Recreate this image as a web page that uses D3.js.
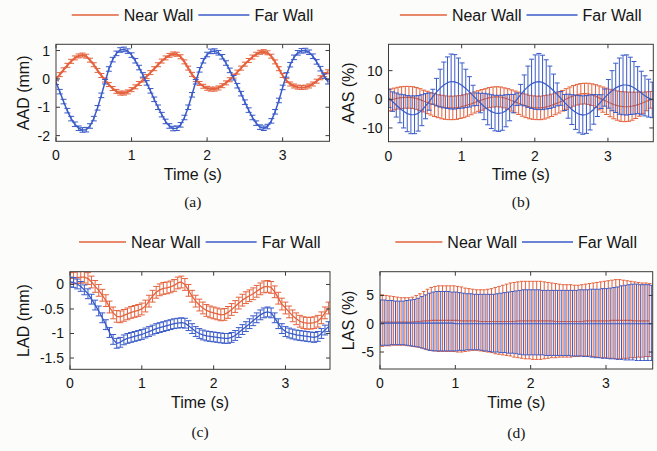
<!DOCTYPE html>
<html>
<head>
<meta charset="utf-8">
<script src="https://cdn.jsdelivr.net/npm/d3@7"></script>
<style>
  body { margin: 0; background: #fcfcfa; }
  svg { display: block; }
  text { font-family: Arial, "Liberation Sans", sans-serif; fill: #151515; }
  .caption { font-family: "Times New Roman", "Liberation Serif", serif; }
</style>
</head>
<body>
<div id="fig"></div>
<script>
// ---- data, one sample every 0.05 s ----
var frameStep = 0.05;
var legendNames = ["Near Wall", "Far Wall"];
var timeTicks = [0, 1, 2, 3];
var aadTicks = [-2, -1, 0, 1];
var aasTicks = [-10, 0, 10];
var ladTicks = [-1.5, -1, -0.5, 0];
var lasTicks = [-5, 0, 5];

// (a) AAD (mm)
var aadNear = [0, 0.15, 0.32, 0.48, 0.62, 0.74, 0.81, 0.84, 0.80, 0.66,
  0.50, 0.30, 0.12, -0.04, -0.20, -0.34, -0.44, -0.50, -0.50, -0.46,
  -0.38, -0.28, -0.16, -0.04, 0.08, 0.22, 0.36, 0.50, 0.63, 0.74,
  0.83, 0.88, 0.87, 0.78, 0.60, 0.38, 0.16, -0.02, -0.16, -0.26,
  -0.33, -0.36, -0.36, -0.32, -0.24, -0.14, -0.03, 0.10, 0.24, 0.38,
  0.52, 0.65, 0.77, 0.87, 0.94, 0.96, 0.92, 0.80, 0.60, 0.36,
  0.12, -0.06, -0.18, -0.25, -0.29, -0.30, -0.29, -0.25, -0.18, -0.08,
  0.04, 0.15, 0.25];
var aadFar = [-0.12, -0.45, -0.80, -1.12, -1.40, -1.60, -1.74, -1.80, -1.79, -1.66,
  -1.40, -1.02, -0.58, -0.10, 0.35, 0.68, 0.90, 1.02, 1.04, 0.98,
  0.84, 0.64, 0.40, 0.14, -0.14, -0.42, -0.72, -1.00, -1.26, -1.50,
  -1.66, -1.75, -1.74, -1.62, -1.36, -1.00, -0.56, -0.10, 0.32, 0.64,
  0.86, 0.97, 0.98, 0.92, 0.78, 0.56, 0.30, 0.04, -0.24, -0.52,
  -0.82, -1.10, -1.36, -1.56, -1.70, -1.74, -1.68, -1.48, -1.16, -0.76,
  -0.30, 0.14, 0.50, 0.76, 0.92, 0.99, 1.00, 0.94, 0.80, 0.60,
  0.36, 0.10, -0.10];
var aadNearErr = 0.07, aadFarErr = 0.08;

// (b) AAS (%)
var aasNear = [-0.5, -0.2, 0.1, 0.4, 0.6, 0.7, 0.7, 0.6, 0.3, -0.1,
  -0.6, -1.1, -1.6, -2.0, -2.4, -2.7, -2.9, -3.0, -3.0, -2.9,
  -2.7, -2.4, -2.0, -1.6, -1.1, -0.6, -0.2, 0.2, 0.6, 0.8,
  0.9, 0.8, 0.5, 0.1, -0.4, -0.9, -1.4, -1.9, -2.3, -2.7,
  -2.9, -3.0, -3.0, -2.8, -2.5, -2.1, -1.6, -1.1, -0.5, 0.1,
  0.7, 1.2, 1.6, 1.9, 2.0, 1.9, 1.6, 1.1, 0.5, -0.1,
  -0.7, -1.3, -1.8, -2.2, -2.5, -2.6, -2.6, -2.4, -2.1, -1.7,
  -1.2, -0.7, -0.2];
var aasNearErr = [3.8, 3.8, 3.8, 3.8, 3.8, 3.8, 3.8, 3.8, 3.8, 3.8,
  3.8, 3.9, 3.9, 4.0, 4.0, 4.1, 4.1, 4.1, 4.1, 4.1,
  4.0, 4.0, 3.9, 3.8, 3.7, 3.6, 3.6, 3.5, 3.5, 3.5,
  3.5, 3.5, 3.5, 3.6, 3.7, 3.8, 3.9, 4.0, 4.1, 4.1,
  4.1, 4.1, 4.1, 4.1, 4.0, 3.9, 3.8, 3.7, 3.6, 3.6,
  3.6, 3.6, 3.6, 3.6, 3.6, 3.7, 3.8, 4.0, 4.2, 4.4,
  4.6, 4.8, 5.0, 5.1, 5.2, 5.2, 5.1, 4.9, 4.6, 4.2,
  3.7, 3.3, 2.9];
var aasFar = [0.3, -0.8, -2.0, -3.2, -4.2, -5.0, -5.4, -5.4, -4.9, -3.8,
  -2.4, -0.8, 0.9, 2.5, 3.9, 5.0, 5.8, 6.2, 6.1, 5.6,
  4.8, 3.8, 2.6, 1.3, 0.0, -1.3, -2.5, -3.5, -4.3, -4.8,
  -4.9, -4.7, -4.0, -2.9, -1.5, 0.0, 1.6, 3.1, 4.4, 5.4,
  6.0, 6.2, 5.9, 5.2, 4.2, 3.0, 1.7, 0.3, -1.1, -2.4,
  -3.6, -4.5, -5.2, -5.5, -5.3, -4.6, -3.5, -2.2, -0.8, 0.6,
  1.9, 3.0, 4.0, 4.6, 5.0, 5.0, 4.7, 4.0, 3.2, 2.2,
  1.2, 0.4, -0.2];
var aasFarErr = [3.2, 3.4, 4.2, 5.0, 5.8, 6.3, 6.6, 6.6, 6.2, 5.4,
  4.4, 3.0, 2.6, 4.8, 6.6, 8.0, 9.0, 9.6, 9.5, 8.8,
  7.9, 6.7, 5.3, 3.6, 2.2, 3.4, 4.6, 5.4, 5.9, 6.2,
  6.3, 6.1, 5.6, 4.6, 3.2, 2.2, 3.6, 5.4, 7.2, 8.6,
  9.5, 9.8, 9.5, 8.6, 7.4, 5.8, 4.0, 2.4, 2.8, 4.2,
  5.2, 6.0, 6.5, 6.7, 6.6, 6.1, 5.2, 3.8, 2.4, 3.0,
  5.0, 7.0, 8.6, 9.8, 10.4, 10.5, 10.0, 9.2, 8.2, 7.6,
  7.0, 6.6, 6.2];

// (c) LAD (mm)
var ladNear = [0.12, 0.13, 0.14, 0.15, 0.15, 0.12, 0.05, -0.04, -0.12, -0.22,
  -0.33, -0.46, -0.58, -0.65, -0.66, -0.63, -0.60, -0.57, -0.55, -0.53,
  -0.50, -0.44, -0.34, -0.24, -0.16, -0.11, -0.08, -0.07, -0.05, -0.02,
  0.03, 0.05, 0.00, -0.12, -0.24, -0.34, -0.42, -0.48, -0.53, -0.56,
  -0.58, -0.60, -0.62, -0.61, -0.57, -0.51, -0.45, -0.38, -0.32, -0.27,
  -0.23, -0.19, -0.14, -0.09, -0.05, -0.04, -0.06, -0.15, -0.28, -0.40,
  -0.48, -0.56, -0.64, -0.70, -0.75, -0.78, -0.79, -0.79, -0.78, -0.75,
  -0.68, -0.58, -0.48];
var ladFar = [0.05, 0.04, 0.01, -0.04, -0.11, -0.19, -0.30, -0.42, -0.54, -0.68,
  -0.82, -0.98, -1.12, -1.20, -1.18, -1.13, -1.10, -1.08, -1.06, -1.04,
  -1.02, -0.99, -0.96, -0.93, -0.90, -0.88, -0.86, -0.84, -0.82, -0.80,
  -0.79, -0.78, -0.79, -0.84, -0.90, -0.96, -1.00, -1.03, -1.05, -1.06,
  -1.07, -1.08, -1.09, -1.10, -1.10, -1.08, -1.04, -0.98, -0.92, -0.86,
  -0.80, -0.74, -0.68, -0.62, -0.58, -0.56, -0.58, -0.68, -0.80, -0.90,
  -0.96, -0.99, -1.01, -1.03, -1.04, -1.05, -1.06, -1.07, -1.08, -1.06,
  -1.00, -0.93, -0.86];
var ladNearErr = 0.12, ladFarErr = 0.1;

// (d) LAS (%) - mean line plus lower / upper ends of the bars
var lasNear = [0.3, 0.3, 0.3, 0.3, 0.3, 0.3, 0.3, 0.3, 0.3, 0.3,
  0.4, 0.4, 0.5, 0.5, 0.6, 0.6, 0.6, 0.6, 0.6, 0.6,
  0.6, 0.6, 0.5, 0.5, 0.5, 0.5, 0.5, 0.4, 0.4, 0.4,
  0.4, 0.4, 0.4, 0.4, 0.4, 0.4, 0.4, 0.5, 0.5, 0.5,
  0.5, 0.5, 0.5, 0.5, 0.5, 0.5, 0.5, 0.4, 0.4, 0.4,
  0.4, 0.4, 0.4, 0.4, 0.4, 0.5, 0.5, 0.5, 0.5, 0.5,
  0.5, 0.5, 0.6, 0.6, 0.6, 0.6, 0.6, 0.6, 0.5, 0.5,
  0.5, 0.5, 0.5];
var lasNearHi = [5.2, 5.1, 5.0, 4.9, 4.8, 4.7, 4.6, 4.6, 4.6, 4.7,
  5.0, 5.3, 5.7, 6.1, 6.4, 6.6, 6.7, 6.7, 6.7, 6.7,
  6.7, 6.6, 6.5, 6.3, 6.2, 6.1, 6.0, 6.0, 6.0, 6.1,
  6.2, 6.4, 6.6, 6.8, 7.0, 7.2, 7.3, 7.4, 7.5, 7.5,
  7.5, 7.5, 7.5, 7.5, 7.4, 7.3, 7.2, 7.1, 7.0, 6.9,
  6.9, 6.9, 6.8, 6.8, 6.9, 7.0, 7.1, 7.2, 7.3, 7.4,
  7.5, 7.6, 7.7, 7.8, 7.8, 7.7, 7.6, 7.5, 7.4, 7.3,
  7.2, 7.2, 7.1];
var lasNearLo = [-4.0, -4.0, -3.9, -3.9, -3.8, -3.8, -3.8, -3.8, -3.9, -4.0,
  -4.1, -4.2, -4.4, -4.6, -4.7, -4.8, -4.9, -4.9, -4.9, -4.9,
  -4.9, -5.0, -5.0, -4.9, -4.8, -4.7, -4.7, -4.8, -4.9, -5.0,
  -5.1, -5.3, -5.4, -5.5, -5.6, -5.7, -5.9, -6.0, -6.1, -6.2,
  -6.2, -6.3, -6.3, -6.3, -6.2, -6.1, -6.0, -6.0, -5.9, -5.9,
  -5.9, -5.9, -5.8, -5.8, -5.7, -5.7, -5.7, -5.8, -5.9, -6.0,
  -6.0, -6.1, -6.1, -6.2, -6.2, -6.1, -6.1, -6.0, -6.0, -5.9,
  -5.9, -5.8, -5.8];
var lasFar = [0.1, 0.1, 0.1, 0.1, 0.1, 0.1, 0.1, 0.1, 0.1, 0.1,
  0.1, 0.1, 0.1, 0.1, 0.1, 0.1, 0.1, 0.1, 0.1, 0.1,
  0.0, 0.0, 0.0, 0.0, 0.0, 0.0, 0.0, 0.0, 0.0, 0.0,
  0.0, 0.0, 0.0, 0.0, 0.0, 0.0, 0.0, 0.0, 0.0, 0.0,
  0.0, 0.0, 0.0, 0.0, 0.0, 0.0, 0.0, 0.0, 0.0, 0.0,
  0.0, 0.0, 0.0, 0.0, 0.0, 0.0, 0.0, 0.0, 0.0, 0.0,
  0.0, 0.0, 0.0, 0.0, 0.0, 0.0, 0.0, 0.0, 0.0, 0.0,
  0.0, 0.0, 0.0];
var lasFarHi = [4.2, 4.2, 4.1, 4.1, 4.0, 4.0, 4.0, 4.1, 4.2, 4.3,
  4.5, 4.8, 5.1, 5.4, 5.6, 5.7, 5.7, 5.7, 5.7, 5.6,
  5.6, 5.5, 5.4, 5.3, 5.3, 5.2, 5.2, 5.2, 5.2, 5.2,
  5.2, 5.3, 5.4, 5.5, 5.6, 5.7, 5.8, 5.9, 6.0, 6.0,
  6.0, 6.0, 6.0, 5.9, 5.9, 5.9, 5.9, 5.9, 5.9, 5.9,
  5.9, 5.9, 5.9, 6.0, 6.0, 6.0, 6.1, 6.1, 6.1, 6.2,
  6.2, 6.3, 6.4, 6.5, 6.7, 6.8, 6.9, 7.0, 7.0, 6.9,
  6.9, 6.9, 6.8];
var lasFarLo = [-3.8, -3.8, -3.8, -3.7, -3.7, -3.7, -3.7, -3.8, -3.9, -4.0,
  -4.1, -4.3, -4.5, -4.7, -4.8, -4.8, -4.8, -4.8, -4.8, -4.8,
  -4.8, -4.7, -4.7, -4.6, -4.6, -4.6, -4.6, -4.7, -4.8, -4.9,
  -5.0, -5.0, -5.1, -5.1, -5.2, -5.2, -5.3, -5.4, -5.5, -5.5,
  -5.5, -5.5, -5.5, -5.5, -5.6, -5.6, -5.6, -5.6, -5.6, -5.6,
  -5.6, -5.7, -5.7, -5.7, -5.8, -5.8, -5.9, -6.0, -6.0, -6.1,
  -6.1, -6.2, -6.2, -6.3, -6.3, -6.4, -6.4, -6.4, -6.5, -6.5,
  -6.5, -6.5, -6.5];

var red = "#e4623d", blue = "#3a5bc8";

// sample times
var time = d3.range(aadNear.length).map(function(i) { return i * frameStep; });

// helpers to build lo/hi from mean and error
function band(mean, err) {
  return mean.map(function(m, i) {
    var e = Array.isArray(err) ? err[i] : err;
    return {t: time[i], m: m, lo: m - e, hi: m + e};
  });
}
function bandLoHi(mean, lo, hi) {
  return mean.map(function(m, i) { return {t: time[i], m: m, lo: lo[i], hi: hi[i]}; });
}

var panels = [
  {key: "a", box: [56, 329.5, 44.3, 141.3], yDom: [-2.2, 1.22], yTicks: aadTicks, yLabel: "AAD (mm)",
   yLabelX: 29, legendY: 15, timeY: 180, capY: 207, caption: "(a)", cap: 3, lw: [2, 1.5], dodge: 0,
   series: [{pts: band(aadNear, aadNearErr), color: red}, {pts: band(aadFar, aadFarErr), color: blue}]},
  {key: "b", box: [388.5, 653.3, 44.3, 141.7], yDom: [-14.8, 19.2], yTicks: aasTicks, yLabel: "AAS (%)",
   yLabelX: 354, legendY: 15, timeY: 180, capY: 207, caption: "(b)", cap: 2.5, lw: [1.2, 1.2], dodge: 1.5,
   series: [{pts: band(aasNear, aasNearErr), color: red}, {pts: band(aasFar, aasFarErr), color: blue}]},
  {key: "c", box: [70, 330, 271.7, 369.3], yDom: [-1.73, 0.26], yTicks: ladTicks, yLabel: "LAD (mm)",
   yLabelX: 29, legendY: 242, timeY: 408, capY: 437, caption: "(c)", cap: 3, lw: [1.3, 1.3], dodge: 0,
   series: [{pts: band(ladNear, ladNearErr), color: red}, {pts: band(ladFar, ladFarErr), color: blue}]},
  {key: "d", box: [380, 652.7, 271.7, 369], yDom: [-8, 9.2], yTicks: lasTicks, yLabel: "LAS (%)",
   yLabelX: 354, legendY: 242, timeY: 408, capY: 438, caption: "(d)", cap: 1.8, lw: [1.2, 1.2], dodge: 1.5,
   series: [{pts: bandLoHi(lasNear, lasNearLo, lasNearHi), color: red},
            {pts: bandLoHi(lasFar, lasFarLo, lasFarHi), color: blue}]}
];

var svg = d3.select("#fig").append("svg").attr("width", 657).attr("height", 451);

panels.forEach(drawPanel);

function drawPanel(p) {
  var x0 = p.box[0], x1 = p.box[1], y0 = p.box[2], y1 = p.box[3];
  var x = d3.scaleLinear().domain([0, 3.62]).range([x0, x1]);
  var y = d3.scaleLinear().domain(p.yDom).range([y1, y0]);
  var g = svg.append("g").attr("class", "panel-" + p.key);

  g.append("rect").attr("x", x0).attr("y", y0).attr("width", x1 - x0).attr("height", y1 - y0)
    .attr("fill", "#fff");

  g.append("clipPath").attr("id", "clip-" + p.key)
    .append("rect").attr("x", x0).attr("y", y0).attr("width", x1 - x0).attr("height", y1 - y0);
  var marks = g.append("g").attr("clip-path", "url(#clip-" + p.key + ")");

  p.series.forEach(function(s, si) {
    var dx = si === 0 ? -p.dodge : p.dodge * 0.3;
    var sg = marks.append("g").attr("stroke", s.color).attr("fill", "none");
    // error bars
    sg.selectAll("path.bar").data(s.pts).join("path").attr("class", "bar")
      .attr("stroke-width", 1)
      .attr("d", function(d) {
        var cx = x(d.t) + dx, a = y(d.lo), b = y(d.hi);
        return "M" + cx + "," + a + "V" + b +
               "M" + (cx - p.cap) + "," + a + "H" + (cx + p.cap) +
               "M" + (cx - p.cap) + "," + b + "H" + (cx + p.cap);
      });
    // mean curve
    sg.append("path").datum(s.pts)
      .attr("stroke-width", p.lw[si])
      .attr("stroke-linejoin", "round")
      .attr("d", d3.line().x(function(d) { return x(d.t) + dx; }).y(function(d) { return y(d.m); }));
  });

  // box + inward ticks on all sides (matlab style)
  var axisColor = "#3a3a3a";
  g.append("rect").attr("x", x0).attr("y", y0).attr("width", x1 - x0).attr("height", y1 - y0)
    .attr("fill", "none").attr("stroke", axisColor).attr("stroke-width", 1);
  var tl = 4;
  timeTicks.forEach(function(t) {
    g.append("line").attr("x1", x(t)).attr("x2", x(t)).attr("y1", y1).attr("y2", y1 - tl).attr("stroke", axisColor);
    g.append("line").attr("x1", x(t)).attr("x2", x(t)).attr("y1", y0).attr("y2", y0 + tl).attr("stroke", axisColor);
    g.append("text").attr("x", x(t)).attr("y", y1 + 19).attr("text-anchor", "middle")
      .attr("font-size", 14).text(t);
  });
  p.yTicks.forEach(function(v) {
    g.append("line").attr("x1", x0).attr("x2", x0 + tl).attr("y1", y(v)).attr("y2", y(v)).attr("stroke", axisColor);
    g.append("line").attr("x1", x1).attr("x2", x1 - tl).attr("y1", y(v)).attr("y2", y(v)).attr("stroke", axisColor);
    g.append("text").attr("x", x0 - 6).attr("y", y(v) + 5).attr("text-anchor", "end")
      .attr("font-size", 14).text(v);
  });

  // axis labels
  var cx = (x0 + x1) / 2;
  g.append("text").attr("x", cx).attr("y", p.timeY).attr("text-anchor", "middle")
    .attr("font-size", 16).text("Time (s)");
  g.append("text").attr("transform", "translate(" + p.yLabelX + "," + ((y0 + y1) / 2) + ") rotate(-90)")
    .attr("text-anchor", "middle").attr("font-size", 16).text(p.yLabel);
  g.append("text").attr("class", "caption").attr("x", cx).attr("y", p.capY).attr("text-anchor", "middle")
    .attr("font-size", 15.5).text(p.caption);

  // legend
  var lg = g.append("g");
  var lx = cx - 121, ly = p.legendY;
  [red, blue].forEach(function(c, i) {
    var segLen = i === 0 ? 47 : 51;
    lg.append("line").attr("x1", lx).attr("x2", lx + segLen).attr("y1", ly).attr("y2", ly)
      .attr("stroke", c).attr("stroke-width", 1.5);
    var t = lg.append("text").attr("x", lx + segLen + 5).attr("y", ly + 6).attr("font-size", 16)
      .text(legendNames[i]);
    lx = lx + segLen + 5 + t.node().getComputedTextLength() + 5;
  });
}
</script>
</body>
</html>
